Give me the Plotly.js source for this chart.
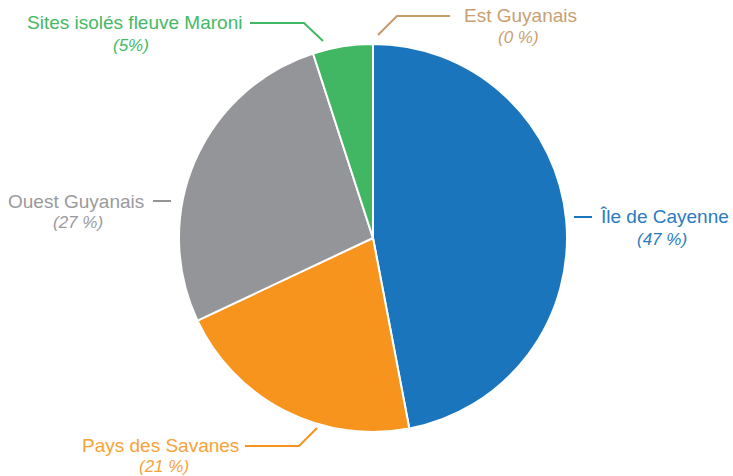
<!DOCTYPE html>
<html><head><meta charset="utf-8">
<script src="https://cdn.plot.ly/plotly-3.0.1.min.js"></script>
<style>html,body{margin:0;padding:0;background:#fff}#chart{width:733px;height:476px}</style>
</head><body><div id="chart"></div>
<script>
// ---- data ----
const categories = ["Île de Cayenne", "Pays des Savanes", "Ouest Guyanais", "Sites isolés fleuve Maroni", "Est Guyanais"];
const values = [47, 21, 27, 5, 0];
const pctLabels = ["(47 %)", "(21 %)", "(27 %)", "(5%)", "(0 %)"];
const sliceColors = ["#1b75bc", "#f7941e", "#939598", "#41b763", "#c69c6d"];
const textColors = ["#2a7cc0", "#f8a23a", "#9a9a9c", "#45b965", "#c9a071"];

// ---- label layout (pixels): name centre, percent centre, connector polyline ----
const labelLayout = [
  {nx: 664, ny: 217, px: 662, py: 239, conn: [[574, 217], [592, 217]]},
  {nx: 160, ny: 445, px: 164, py: 466, conn: [[317, 428], [299, 446], [245, 446]]},
  {nx: 76, ny: 201, px: 78, py: 222, conn: [[153, 201], [171, 201]]},
  {nx: 134, ny: 22, px: 131, py: 45, conn: [[323, 41], [304, 23], [250, 23]]},
  {nx: 520, ny: 16, px: 518, py: 38, conn: [[378, 35], [397, 16], [450, 16]]}
];

const W = 733, H = 476;
const px2x = x => x / W, px2y = y => 1 - y / H;
const cx = 373, cy = 238, R = 194;

const annotations = [], shapes = [];
categories.forEach((c, i) => {
  const L = labelLayout[i];
  annotations.push({xref: 'paper', yref: 'paper', x: px2x(L.nx), y: px2y(L.ny), xanchor: 'center', yanchor: 'middle',
    showarrow: false, text: c, font: {family: 'Liberation Sans, Arial, sans-serif', size: 19, color: textColors[i]}});
  annotations.push({xref: 'paper', yref: 'paper', x: px2x(L.px), y: px2y(L.py), xanchor: 'center', yanchor: 'middle',
    showarrow: false, text: '<i>' + pctLabels[i] + '</i>', font: {family: 'Liberation Sans, Arial, sans-serif', size: 17, color: textColors[i]}});
  const path = L.conn.map((p, k) => (k ? 'L' : 'M') + px2x(p[0]) + ',' + px2y(p[1])).join(' ');
  shapes.push({type: 'path', xref: 'paper', yref: 'paper', path: path, line: {color: sliceColors[i], width: 2}});
});

const trace = {
  type: 'pie', labels: categories, values: values, sort: false, direction: 'clockwise', rotation: 0,
  marker: {colors: sliceColors, line: {color: '#ffffff', width: 2}},
  textinfo: 'none', hoverinfo: 'label+percent', showlegend: false,
  domain: {x: [(cx - R) / W, (cx + R) / W], y: [1 - (cy + R) / H, 1 - (cy - R) / H]}
};

Plotly.newPlot('chart', [trace], {
  width: W, height: H, margin: {l: 0, r: 0, t: 0, b: 0},
  paper_bgcolor: '#ffffff', plot_bgcolor: '#ffffff', showlegend: false,
  annotations: annotations, shapes: shapes
}, {displayModeBar: false, staticPlot: true});
</script></body></html>
